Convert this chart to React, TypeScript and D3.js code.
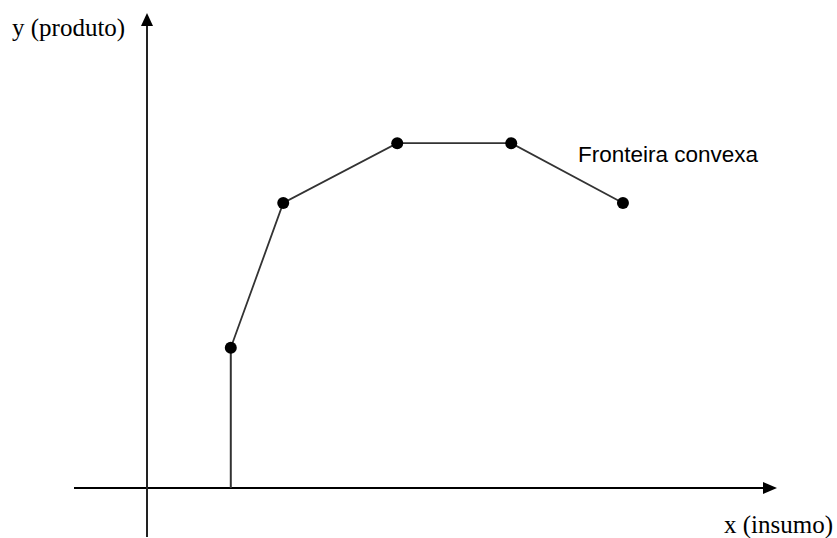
import React from "react";
import * as d3 from "d3";

const inputs = [1.47, 2.39, 4.39, 6.39, 8.35];
const outputs = [2.46, 5.0, 6.05, 6.05, 5.0];
const xLabel = "x (insumo)";
const yLabel = "y (produto)";
const frontierLabel = "Fronteira convexa";

const W = 837;
const H = 538;

export default function App() {
  const x = d3.scaleLinear().domain([0, 10]).range([147, 717]);
  const y = d3.scaleLinear().domain([0, 8]).range([488, 32]);
  const pts = inputs.map((v, i) => [x(v), y(outputs[i])] as [number, number]);
  const line = d3.line();
  const x0 = x(0);
  const y0 = y(0);
  const xEnd = 777;
  const yTop = 13;
  return (
    <svg
      width={W}
      height={H}
      style={{ position: "absolute", left: 0, top: 0, background: "#fff" }}
    >
      {/* axes */}
      <line x1={74} y1={y0} x2={xEnd - 10} y2={y0} stroke="#000" strokeWidth={2} />
      <path d={`M${xEnd},${y0} L${xEnd - 14},${y0 - 6} L${xEnd - 14},${y0 + 6} Z`} fill="#000" />
      <line x1={x0} y1={537} x2={x0} y2={yTop + 10} stroke="#222" strokeWidth={2} />
      <path d={`M${x0},${yTop} L${x0 - 6},${yTop + 13} L${x0 + 6},${yTop + 13} Z`} fill="#000" />
      {/* vertical drop */}
      <line x1={pts[0][0]} y1={pts[0][1]} x2={pts[0][0]} y2={y0} stroke="#333" strokeWidth={2} />
      {/* frontier */}
      <path d={line(pts) || ""} fill="none" stroke="#333" strokeWidth={1.8} />
      {pts.map((p, i) => (
        <circle key={i} cx={p[0]} cy={p[1]} r={6} fill="#000" />
      ))}
      <text x={12} y={36} fontFamily="'Liberation Serif', 'Times New Roman', serif" fontSize={25} fill="#000">
        {yLabel}
      </text>
      <text x={833} y={533} textAnchor="end" fontFamily="'Liberation Serif', 'Times New Roman', serif" fontSize={25} fill="#000">
        {xLabel}
      </text>
      <text x={578} y={162} fontFamily="'Liberation Sans', Arial, sans-serif" fontSize={22.5} fill="#000">
        {frontierLabel}
      </text>
    </svg>
  );
}
